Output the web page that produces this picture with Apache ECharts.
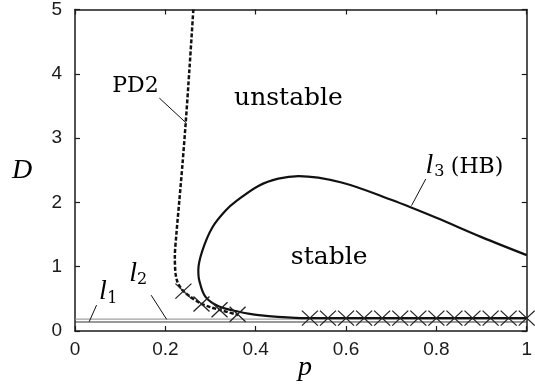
<!DOCTYPE html>
<html>
<head>
<meta charset="utf-8">
<script src="https://cdn.jsdelivr.net/npm/echarts@6/dist/echarts.min.js"></script>
<style>html,body{margin:0;padding:0;background:#fff}#c{width:535px;height:386px}</style>
</head>
<body>
<div id="c"></div>
<script>
// ---- data ----
const l1D = 0.14;
const l2D = 0.185;
const hbP = [1.0, 0.9, 0.8, 0.7, 0.59, 0.495, 0.45, 0.407, 0.359, 0.333, 0.304, 0.282, 0.273, 0.275, 0.289, 0.319, 0.363, 0.407, 0.488, 0.55, 0.7, 1.0];
const hbD = [1.18, 1.46, 1.76, 2.04, 2.31, 2.41, 2.37, 2.26, 2.03, 1.87, 1.61, 1.25, 0.95, 0.79, 0.53, 0.38, 0.30, 0.247, 0.205, 0.2, 0.2, 0.2];
const pd2P = [0.262, 0.2535, 0.245, 0.238, 0.231, 0.2245, 0.221, 0.2225, 0.227, 0.238, 0.256, 0.278, 0.30, 0.322, 0.361];
const pd2D = [5.0, 4.09, 3.23, 2.6, 2.03, 1.51, 1.15, 0.9, 0.76, 0.635, 0.53, 0.43, 0.37, 0.325, 0.25];
const crossP = [0.24, 0.28, 0.32, 0.36, 0.52, 0.56, 0.60, 0.64, 0.68, 0.72, 0.76, 0.80, 0.84, 0.88, 0.92, 0.96, 1.00];
const crossD = [0.62, 0.42, 0.33, 0.26, 0.2, 0.2, 0.2, 0.2, 0.2, 0.2, 0.2, 0.2, 0.2, 0.2, 0.2, 0.2, 0.2];
const xTicks = [0, 0.2, 0.4, 0.6, 0.8, 1];
const yTicks = [0, 1, 2, 3, 4, 5];

// annotation texts (data coordinates)
const textLabels = ['PD2', 'unstable', 'stable', '(HB)'];
const textP = [0.134, 0.4725, 0.5626, 0.8901];
const textD = [3.808, 3.622, 1.146, 2.539];
const textSize = [22, 25, 25, 22];
const mathMain = ['l', 'l', 'l'];
const mathMainP = [0.0615, 0.1286, 0.7846];
const mathMainD = [0.619, 0.898, 2.570];
const mathSub = ['1', '2', '3'];
const mathSubP = [0.0824, 0.1484, 0.8066];
const mathSubD = [0.495, 0.789, 2.477];
// leader lines [p0, D0, p1, D1]
const leaders = [
  [0.1868, 3.622, 0.2462, 3.235],
  [0.7765, 2.364, 0.745, 1.950],
  [0.0477, 0.402, 0.0314, 0.144],
  [0.1686, 0.557, 0.2029, 0.181]
];

const zip = (a, b) => a.map((v, i) => [v, b[i]]);
const ink = '#111';
const tickFont = {fontFamily: 'Liberation Sans', fontSize: 19, color: '#1a1a1a'};

const series = [
  {type: 'line', data: [[0, l1D], [1, l1D]], symbol: 'none', lineStyle: {color: '#333', width: 1}, silent: true},
  {type: 'line', data: [[0, l2D], [1, l2D]], symbol: 'none', lineStyle: {color: '#888', width: 1}, silent: true},
  {type: 'line', data: zip(hbP, hbD), symbol: 'none', smooth: 0.35, lineStyle: {color: ink, width: 2.2}},
  {type: 'line', data: zip(pd2P, pd2D), symbol: 'none', smooth: 0.3, lineStyle: {color: ink, width: 2.5, type: [4, 2]}},
  {type: 'scatter', data: zip(crossP, crossD), symbol: 'path://M0,0L16,15M16,0L0,15', symbolSize: [16, 15],
   itemStyle: {color: 'none', borderColor: '#222', borderWidth: 1.2, opacity: 1}, clip: false, z: 5}
];
leaders.forEach(l => series.push({type: 'line', data: [[l[0], l[1]], [l[2], l[3]]], symbol: 'none', lineStyle: {color: ink, width: 1}}));

const labelData = [];
textLabels.forEach((t, i) => labelData.push({value: [textP[i], textD[i]],
  label: {show: true, position: 'inside', formatter: t, fontFamily: 'DejaVu Serif', fontSize: textSize[i], color: '#000'}}));
mathMain.forEach((t, i) => labelData.push({value: [mathMainP[i], mathMainD[i]],
  label: {show: true, position: 'inside', formatter: t, fontFamily: 'Liberation Serif', fontStyle: 'italic', fontSize: 28, color: '#000'}}));
mathSub.forEach((t, i) => labelData.push({value: [mathSubP[i], mathSubD[i]],
  label: {show: true, position: 'inside', formatter: t, fontFamily: 'DejaVu Serif', fontSize: 16, color: '#000'}}));
series.push({type: 'scatter', data: labelData, symbolSize: 1, itemStyle: {color: 'rgba(0,0,0,0)', opacity: 1}, z: 10, silent: true});

const chart = echarts.init(document.getElementById('c'), null, {renderer: 'canvas'});
const axisLine = {show: true, onZero: false, lineStyle: {color: '#1a1a1a', width: 1.5}};
const tickIn = {show: true, inside: true, length: 5, lineStyle: {color: '#1a1a1a', width: 1.2}};
chart.setOption({
  animation: false,
  backgroundColor: '#fff',
  grid: {left: 75, right: 5, top: 8, bottom: 55},
  xAxis: [
    {type: 'value', min: xTicks[0], max: xTicks[xTicks.length - 1], interval: xTicks[1] - xTicks[0], position: 'bottom',
     axisLine, axisTick: tickIn, splitLine: {show: false}, axisLabel: Object.assign({margin: 9}, tickFont)},
    {type: 'value', min: xTicks[0], max: xTicks[xTicks.length - 1], interval: xTicks[1] - xTicks[0], position: 'top',
     axisLine, axisTick: tickIn, splitLine: {show: false}, axisLabel: {show: false}}
  ],
  yAxis: [
    {type: 'value', min: yTicks[0], max: yTicks[yTicks.length - 1], interval: 1, position: 'left',
     axisLine, axisTick: tickIn, splitLine: {show: false}, axisLabel: Object.assign({margin: 13}, tickFont)},
    {type: 'value', min: yTicks[0], max: yTicks[yTicks.length - 1], interval: 1, position: 'right',
     axisLine, axisTick: tickIn, splitLine: {show: false}, axisLabel: {show: false}}
  ],
  graphic: [
    {type: 'text', left: 12, top: 157, style: {text: 'D', font: 'italic 28px "Liberation Serif"', fill: '#000'}},
    {type: 'text', left: 298, top: 354, style: {text: 'p', font: 'italic 28px "Liberation Serif"', fill: '#000'}}
  ],
  series
});
</script>
</body>
</html>
